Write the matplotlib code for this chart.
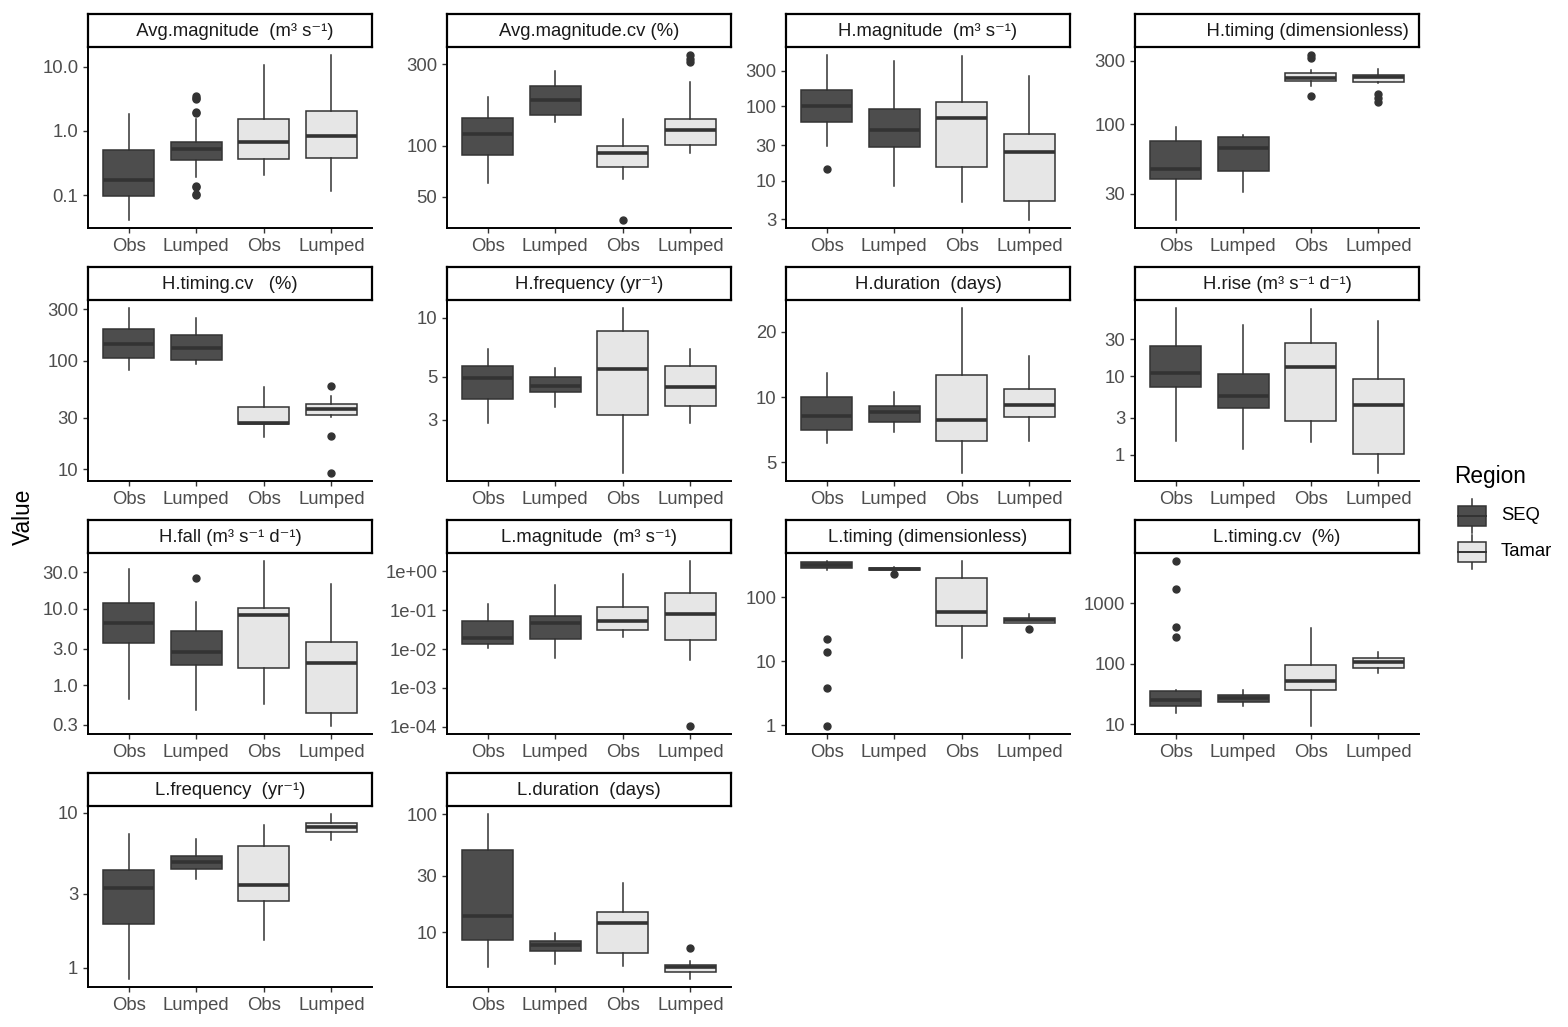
import numpy as np
import matplotlib
matplotlib.use("Agg")
import matplotlib.pyplot as plt
from matplotlib.ticker import FixedLocator, FixedFormatter, NullLocator
from matplotlib.patches import Rectangle

plt.rcParams["font.family"] = ["Liberation Sans", "DejaVu Sans"]

TITLES = [
    "  Avg.magnitude  (m³ s⁻¹)",
    "Avg.magnitude.cv (%)",
    "H.magnitude  (m³ s⁻¹)",
    "            H.timing (dimensionless)",
    "H.timing.cv   (%)",
    "H.frequency (yr⁻¹)",
    "H.duration  (days)",
    "H.rise (m³ s⁻¹ d⁻¹)",
    "H.fall (m³ s⁻¹ d⁻¹)",
    "L.magnitude  (m³ s⁻¹)",
    "L.timing (dimensionless)",
    "L.timing.cv  (%)",
    "L.frequency  (yr⁻¹)",
    "L.duration  (days)",
]

GROUPS = ["Obs", "Lumped", "Obs", "Lumped"]
REGIONS = ["SEQ", "SEQ", "Tamar", "Tamar"]

# box stats per panel, order: Obs SEQ, Lumped SEQ, Obs Tamar, Lumped Tamar
LOW = [
    [0.0416, 0.19, 0.207, 0.117],
    [60.4, 138, 63.2, 90],
    [29.6, 8.5, 5.1, 2.97],
    [19.1, 31, 195, 203],
    [81.8, 93, 19.8, 30.5],
    [2.91, 3.48, 1.61, 2.91],
    [6.12, 6.9, 4.48, 6.31],
    [1.49, 1.18, 1.45, 0.593],
    [0.664, 0.473, 0.569, 0.292],
    [0.0104, 0.006, 0.0209, 0.0053],
    [265, 250, 11.3, 39],
    [15.1, 20.3, 9.4, 70.8],
    [0.851, 3.72, 1.51, 6.64],
    [5.08, 5.43, 5.22, 4.04],
]
Q1 = [
    [0.0975, 0.35, 0.367, 0.386],
    [88, 152, 75.3, 101],
    [61.4, 28.7, 15.2, 5.3],
    [38.9, 44.6, 210, 206],
    [105, 101.6, 25.9, 31.6],
    [3.85, 4.15, 3.19, 3.53],
    [7.08, 7.64, 6.31, 8.13],
    [7.4, 3.94, 2.67, 1.02],
    [3.57, 1.84, 1.68, 0.426],
    [0.0132, 0.0182, 0.0313, 0.0168],
    [282, 259, 35.3, 40],
    [20.3, 23.7, 36.3, 86],
    [1.93, 4.35, 2.68, 7.53],
    [8.65, 6.95, 6.71, 4.57],
]
MED = [
    [0.175, 0.518, 0.668, 0.82],
    [117.5, 185, 90, 123],
    [100, 47.6, 69, 24.5],
    [45.9, 66.4, 222, 227],
    [143.5, 131.6, 27, 35.7],
    [4.94, 4.48, 5.5, 4.43],
    [8.18, 8.57, 7.83, 9.2],
    [11.1, 5.6, 13.1, 4.36],
    [6.5, 2.71, 8.21, 1.93],
    [0.019, 0.047, 0.054, 0.0776],
    [318, 272, 57.7, 44],
    [25.3, 26.9, 52.8, 108],
    [3.25, 4.81, 3.41, 8.05],
    [13.8, 7.78, 12.0, 5.06],
]
Q3 = [
    [0.505, 0.668, 1.51, 2.05],
    [145.5, 223, 100, 144],
    [164, 91.8, 113, 43],
    [74.7, 80, 241, 235],
    [198, 172, 37.9, 40.1],
    [5.65, 5.0, 8.6, 5.65],
    [10.0, 9.12, 12.6, 10.9],
    [24.2, 10.8, 26.5, 9.25],
    [11.8, 5.17, 10.3, 3.61],
    [0.0518, 0.07, 0.124, 0.271],
    [348, 282, 201, 48],
    [34.9, 30.7, 96, 127],
    [4.29, 5.23, 6.1, 8.59],
    [49.9, 8.47, 14.9, 5.33],
]
HIGH = [
    [1.82, 1.51, 10.6, 15.0],
    [194, 273, 143, 235],
    [488, 403, 472, 259],
    [95, 83.4, 255, 258],
    [305, 246, 57, 47.6],
    [6.96, 5.53, 11.2, 6.9],
    [12.9, 10.6, 25.7, 15.4],
    [74, 45.9, 72.8, 50.7],
    [33.6, 12.4, 42, 21.1],
    [0.148, 0.448, 0.834, 1.83],
    [361, 290, 361, 54.2],
    [37.2, 37.2, 389, 154],
    [7.28, 6.74, 8.26, 9.75],
    [100, 9.9, 26.2, 5.69],
]
FLIERS = [
    [[], [0.1, 0.105, 0.135, 0.14, 1.93, 2.0, 3.1, 3.3, 3.5], [], []],
    [[], [], [36.6], [310, 325, 340]],
    [[14.2], [], [], []],
    [[], [], [162, 312, 330], [148, 158, 169]],
    [[], [], [], [9.3, 20.2, 59]],
    [[], [], [], []],
    [[], [], [], []],
    [[], [], [], []],
    [[], [25.2], [], []],
    [[], [], [], [0.000105]],
    [[0.99, 3.9, 14.1, 22.5], [229], [], [31.3]],
    [[282, 405, 1718, 5000], [], [], []],
    [[], [], [], []],
    [[], [], [], [7.41]],
]

YTICKS = [
    [0.1, 1, 10], [50, 100, 300], [3, 10, 30, 100, 300], [30, 100, 300],
    [10, 30, 100, 300], [3, 5, 10], [5, 10, 20], [1, 3, 10, 30],
    [0.3, 1, 3, 10, 30], [1e-4, 1e-3, 1e-2, 1e-1, 1], [1, 10, 100],
    [10, 100, 1000], [1, 3, 10], [10, 30, 100],
]
YLABELS = [
    ["0.1", "1.0", "10.0"], ["50", "100", "300"], ["3", "10", "30", "100", "300"],
    ["30", "100", "300"], ["10", "30", "100", "300"], ["3", "5", "10"],
    ["5", "10", "20"], ["1", "3", "10", "30"], ["0.3", "1.0", "3.0", "10.0", "30.0"],
    ["1e-04", "1e-03", "1e-02", "1e-01", "1e+00"], ["1", "10", "100"],
    ["10", "100", "1000"], ["1", "3", "10"], ["10", "30", "100"],
]

FILLS = {"SEQ": "#4D4D4D", "Tamar": "#E6E6E6"}
LINE = "#333333"
TICKCOL = "#4D4D4D"

W, H = 1568, 1027
COL_LEFT = [88, 447, 786, 1135]
ROW_TOP = [47, 300, 553, 806]
PW, PH, SH = 284, 181, 33

fig = plt.figure(figsize=(W / 100, H / 100), dpi=100)


def px_axes(x, y, w, h):
    return fig.add_axes([x / W, 1 - (y + h) / H, w / W, h / H])


for i, title in enumerate(TITLES):
    r, c = divmod(i, 4)
    x0, y0 = COL_LEFT[c], ROW_TOP[r]
    ax = px_axes(x0, y0, PW, PH)

    stats = []
    for j in range(4):
        stats.append(dict(whislo=LOW[i][j], q1=Q1[i][j], med=MED[i][j],
                          q3=Q3[i][j], whishi=HIGH[i][j], fliers=FLIERS[i][j]))
    res = ax.bxp(stats, positions=[1, 2, 3, 4], widths=0.75, patch_artist=True,
                 showcaps=False,
                 boxprops=dict(edgecolor=LINE, linewidth=1.1),
                 whiskerprops=dict(color=LINE, linewidth=1.1),
                 medianprops=dict(color=LINE, linewidth=2.6, solid_capstyle="butt"),
                 flierprops=dict(marker="o", markerfacecolor=LINE,
                                 markeredgecolor=LINE, markersize=5))
    for box, reg in zip(res["boxes"], REGIONS):
        box.set_facecolor(FILLS[reg])

    allv = LOW[i] + HIGH[i] + [v for f in FLIERS[i] for v in f]
    lo, hi = np.log10(min(allv)), np.log10(max(allv))
    pad = 0.05 * (hi - lo)
    ax.set_yscale("log")
    ax.set_ylim(10 ** (lo - pad), 10 ** (hi + pad))
    ax.yaxis.set_major_locator(FixedLocator(YTICKS[i]))
    ax.yaxis.set_major_formatter(FixedFormatter(YLABELS[i]))
    ax.yaxis.set_minor_locator(NullLocator())
    ax.set_xlim(0.4, 4.6)
    ax.set_xticks([1, 2, 3, 4])
    ax.set_xticklabels(GROUPS)

    for s in ["top", "right"]:
        ax.spines[s].set_visible(False)
    for s in ["left", "bottom"]:
        ax.spines[s].set_linewidth(1.4)
        ax.spines[s].set_color("black")
    ax.tick_params(length=3.5, width=1.0, color=LINE, labelcolor=TICKCOL,
                   labelsize=13.3, pad=3.5)

    sax = px_axes(x0, y0 - SH, PW, SH)
    sax.set_xticks([])
    sax.set_yticks([])
    for s in sax.spines.values():
        s.set_linewidth(1.6)
        s.set_color("black")
    sax.text(0.5, 0.47, title, ha="center", va="center", fontsize=13.3,
             color="#1A1A1A", transform=sax.transAxes)

fig.text(23 / W, 1 - 517 / H, "Value", rotation=90, ha="center", va="center",
         fontsize=16.3, color="black")

# legend
lax = fig.add_axes([0, 0, 1, 1], zorder=-1)
lax.set_xlim(0, W)
lax.set_ylim(H, 0)
lax.axis("off")
lax.text(1454, 477, "Region", ha="left", va="center", fontsize=16.3)
for reg, yc in [("SEQ", 516), ("Tamar", 552)]:
    lax.plot([1472, 1472], [yc - 17, yc + 17], color=LINE, lw=1.1)
    lax.add_patch(Rectangle((1458, yc - 10), 28, 20, facecolor=FILLS[reg],
                            edgecolor=LINE, lw=1.1, zorder=3))
    lax.plot([1458, 1486], [yc, yc], color=LINE, lw=1.4, zorder=4)
    lax.text(1501, yc, reg, ha="left", va="center", fontsize=13.3)

fig.savefig("out.png", dpi=100)
